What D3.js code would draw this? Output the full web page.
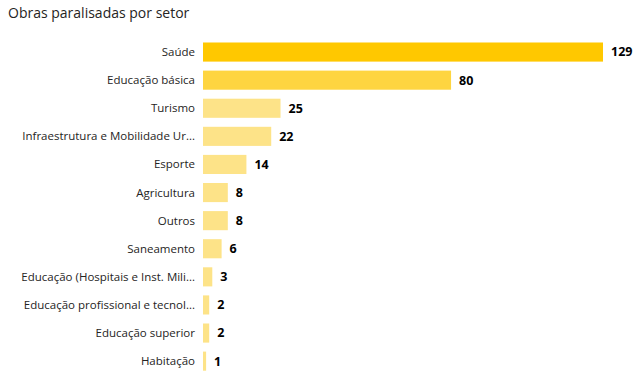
<!DOCTYPE html>
<html lang="pt">
<head>
  <meta charset="UTF-8">
  <title>Obras paralisadas por setor</title>
  <script src="https://d3js.org/d3.v7.min.js"></script>
  <style>
    body { margin: 0; background: #fff; }
    svg { display: block; font-family: "Open Sans", "Noto Sans", sans-serif; }
  </style>
</head>
<body>
  <div id="chart"></div>
  <script>
    // data
    const setores = [
      "Saúde", "Educação básica", "Turismo", "Infraestrutura e Mobilidade Ur...",
      "Esporte", "Agricultura", "Outros", "Saneamento",
      "Educação (Hospitais e Inst. Mili...", "Educação profissional e tecnol...",
      "Educação superior", "Habitação"
    ];
    const obras = [129, 80, 25, 22, 14, 8, 8, 6, 3, 2, 2, 1];
    const titulo = "Obras paralisadas por setor";

    const width = 638, height = 386;
    const margin = {top: 38, right: 35, bottom: 10, left: 203};

    const svg = d3.select("#chart")
      .append("svg")
      .attr("width", width)
      .attr("height", height);

    const x = d3.scaleLinear()
      .domain([0, 129])
      .range([margin.left, margin.left + 400]);

    const y = d3.scaleBand()
      .domain(setores)
      .range([margin.top, margin.top + 28.1 * setores.length])
      .paddingInner(0.32)
      .paddingOuter(0.16);

    // light yellow for small values, full yellow for the largest one
    const color = d3.scaleLinear()
      .domain([25, 129])
      .range(["#fde388", "#ffc800"])
      .clamp(true);

    svg.append("text")
      .attr("x", 8)
      .attr("y", 18)
      .attr("fill", "#252423")
      .attr("font-size", "14px")
      .text(titulo);

    const rows = setores.map((s, i) => ({setor: s, valor: obras[i]}));

    svg.selectAll("rect.bar")
      .data(rows)
      .join("rect")
      .attr("class", "bar")
      .attr("x", x(0))
      .attr("y", d => y(d.setor))
      .attr("width", d => x(d.valor) - x(0))
      .attr("height", y.bandwidth())
      .attr("fill", d => color(d.valor));

    // category labels
    svg.selectAll("text.cat")
      .data(rows)
      .join("text")
      .attr("class", "cat")
      .attr("x", margin.left - 8)
      .attr("y", d => y(d.setor) + y.bandwidth() / 2)
      .attr("dy", "0.35em")
      .attr("text-anchor", "end")
      .attr("fill", "#252423")
      .attr("font-size", "11.5px")
      .text(d => d.setor);

    // value labels
    svg.selectAll("text.val")
      .data(rows)
      .join("text")
      .attr("class", "val")
      .attr("x", d => x(d.valor) + 8)
      .attr("y", d => y(d.setor) + y.bandwidth() / 2)
      .attr("dy", "0.35em")
      .attr("fill", "#000")
      .attr("font-size", "12.5px")
      .attr("font-weight", "bold")
      .text(d => d.valor);
  </script>
</body>
</html>
